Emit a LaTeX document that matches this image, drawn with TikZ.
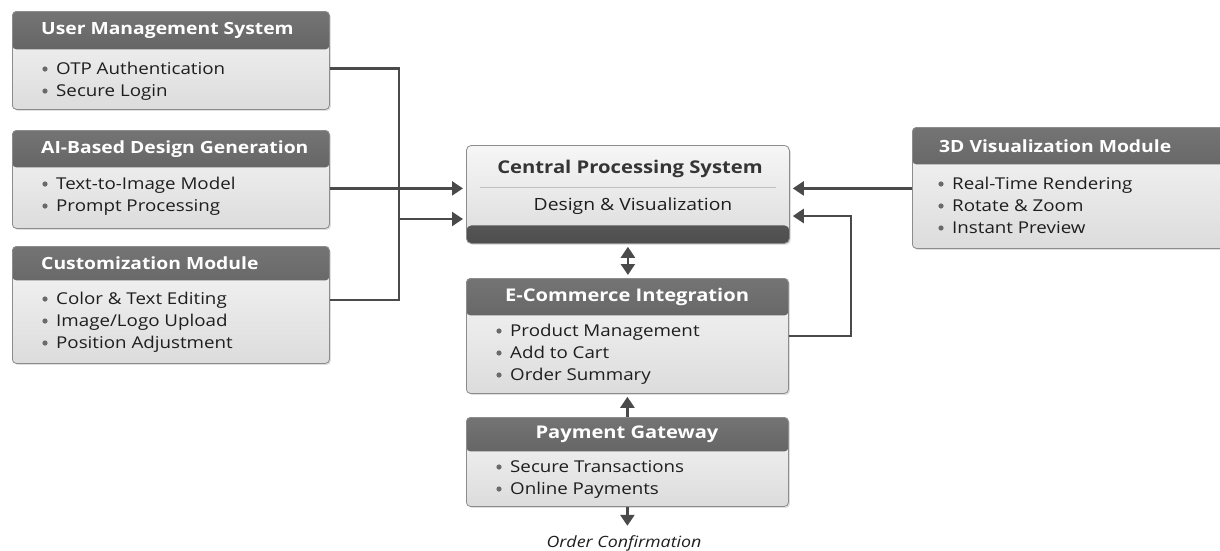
\documentclass[tikz,border=0pt]{standalone}
\usepackage{fontspec}
\setmainfont[FakeStretch=1.15]{Open Sans}
\usetikzlibrary{arrows.meta,shadows,calc}
\definecolor{hdrtop}{HTML}{747474}
\definecolor{hdrbot}{HTML}{4E4E4E}
\definecolor{bodytop}{HTML}{F6F6F6}
\definecolor{bodybot}{HTML}{DCDCDC}
\definecolor{edgec}{HTML}{8C8C8C}
\definecolor{wirec}{HTML}{4A4A4A}
\definecolor{txtc}{HTML}{1E1E1E}
\definecolor{bulc}{HTML}{6A6A6A}
\tikzset{
  modbox/.style={draw=edgec, line width=0.8pt, rounded corners=4pt, inner sep=0pt,
    anchor=north west, top color=bodytop, bottom color=bodybot,
    drop shadow={opacity=0.25, shadow xshift=1.5pt, shadow yshift=-1.5pt},
    path picture={\shade[top color=hdrtop, bottom color=hdrbot]
      (path picture bounding box.north west) rectangle
      ([yshift=-#1pt]path picture bounding box.north east);}},
  cpbox/.style={draw=edgec, line width=0.8pt, rounded corners=5pt, inner sep=0pt,
    anchor=north west, top color=bodytop, bottom color=bodybot,
    drop shadow={opacity=0.25, shadow xshift=1.5pt, shadow yshift=-1.5pt},
    path picture={\shade[top color=hdrtop, bottom color=hdrbot]
      ([yshift=#1pt]path picture bounding box.south west) rectangle
      (path picture bounding box.south east);}},
  hdr/.style={text=white, font=\fontsize{16.8}{19}\selectfont\bfseries, inner sep=0pt},
  item/.style={anchor=west, inner sep=0pt, text height=12pt, text depth=4pt,
    text=txtc, font=\fontsize{16.3}{19}\selectfont},
  bul/.style={fill=bulc},
  wire/.style={draw=wirec, line width=2.4pt},
  arr/.style={wire, -{Triangle[width=14pt,length=11pt]}, shorten >=3pt},
  arrtwo/.style={wire, {Triangle[width=14pt,length=11pt]}-{Triangle[width=14pt,length=11pt]}, shorten >=3pt, shorten <=3pt},
}
\newcommand\itemlist[4]{%
  \foreach \t [count=\i] in {#4} {%
    \fill[bul] ({#2+5},{#3+(\i-1)*22-1}) circle (2.6pt);
    \node[item] (#1\i) at ({#2+16},{#3+(\i-1)*22}) {\t};}}
\begin{document}
\begin{tikzpicture}[x=1pt,y=-1pt]
\useasboundingbox (0,0) rectangle (1220,550);
% left modules
\node[modbox=38, minimum width=317pt, minimum height=98pt] (um) at (12,11) {};
\node[hdr, anchor=west] (umh) at (41,30) {User Management System};
\itemlist{umi}{40}{70}{OTP Authentication,Secure Login}

\node[modbox=37, minimum width=317pt, minimum height=98pt] (ai) at (12,130) {};
\node[hdr, anchor=west] (aih) at (41,149) {AI-Based Design Generation};
\itemlist{aii}{40}{185}{Text-to-Image Model,Prompt Processing}

\node[modbox=34, minimum width=317pt, minimum height=117pt] (cu) at (12,246) {};
\node[hdr, anchor=west] (cuh) at (41,263) {Customization Module};
\itemlist{cui}{40}{300}{Color \& Text Editing,Image/Logo Upload,Position Adjustment}

% central
\node[cpbox=18, minimum width=323pt, minimum height=98pt] (cp) at (466,145) {};
\node[text=txtc!90, font=\fontsize{17.6}{20}\selectfont\bfseries, inner sep=0pt] (cpt) at (630,169) {Central Processing System};
\draw[draw=black!25, line width=0.6pt] (480,187) -- (776,187);
\node[text=txtc, font=\fontsize{16.8}{19}\selectfont, inner sep=0pt] (cps) at (633,206) {Design \& Visualization};

% 3D
\node[modbox=37, minimum width=312pt, minimum height=121pt] (viz) at (912,127) {};
\node[hdr, anchor=west] (vizh) at (939,146) {3D Visualization Module};
\itemlist{vizi}{936}{185}{Real-Time Rendering,Rotate \& Zoom,Instant Preview}

% e-commerce
\node[modbox=37, minimum width=322pt, minimum height=115pt] (ec) at (466,278) {};
\node[hdr, font=\fontsize{17.5}{19}\selectfont\bfseries] (ech) at (627,297) {E-Commerce Integration};
\itemlist{eci}{494}{332}{Product Management,Add to Cart,Order Summary}

% payment
\node[modbox=34, minimum width=322pt, minimum height=89pt] (pg) at (466,417) {};
\node[hdr, font=\fontsize{17.5}{19}\selectfont\bfseries] (pgh) at (627,434) {Payment Gateway};
\itemlist{pgi}{494}{468}{Secure Transactions,Online Payments}

\node[text=txtc, font=\fontsize{15.5}{17}\selectfont\itshape, inner sep=0pt] (oc) at (624,543) {Order Confirmation};

% connectors
\coordinate (busbot) at (399,300);
\coordinate (busmid) at (399,219);
\coordinate (loop) at (851,216);
\draw[wire] ([yshift=-8pt]um.east) -| (busbot) -- (busbot -| cu.east);
\draw[arr] ([yshift=-9pt]ai.east) -- ([yshift=-9pt]ai.east -| cp.west);
\draw[arr] (busmid) -- (busmid -| cp.west);
\draw[arr] ([yshift=-0.5pt]viz.west) -- ([yshift=-0.5pt]viz.west -| cp.east);
\draw[arr] (ec.east) -| (loop) -- (loop -| cp.east);
\draw[arrtwo] (cp.south) -- (cp.south |- ec.north);
\draw[arr] (pg.north) -- (pg.north |- ec.south);
\draw[arr] (pg.south) -- ([yshift=-22pt]pg.south);
\end{tikzpicture}
\end{document}
